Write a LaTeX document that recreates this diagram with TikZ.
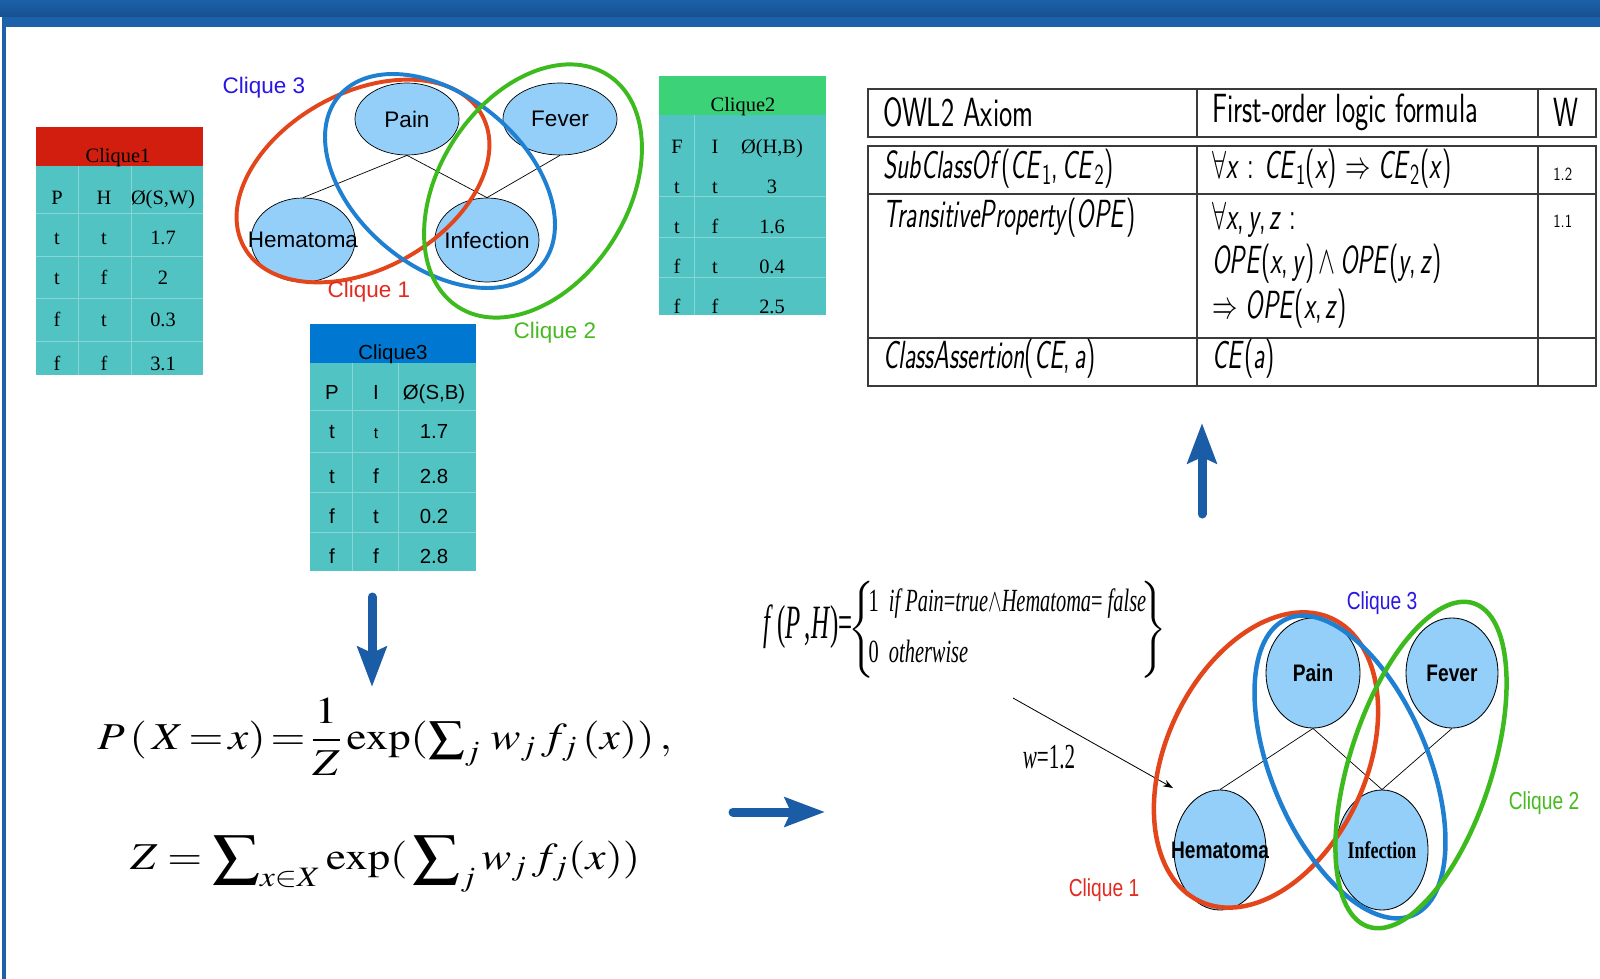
\documentclass[tikz,border=0pt]{standalone}
\usepackage{mathptmx}
\usepackage{fontspec}
\usepackage{graphicx}
\usetikzlibrary{shapes.geometric,arrows.meta}
\newfontfamily\arialf{Liberation Sans}
\newfontfamily\timesf{Liberation Serif}
\definecolor{tealcell}{HTML}{52C3C3}
\definecolor{tealline}{HTML}{86D6D6}
\definecolor{headred}{HTML}{D21E0F}
\definecolor{headgreen}{HTML}{3CD278}
\definecolor{headblue}{HTML}{0078D2}
\definecolor{nodeblue}{HTML}{93CFF8}
\definecolor{cqred}{HTML}{E4461C}
\definecolor{cqblue}{HTML}{1F80D2}
\definecolor{cqgreen}{HTML}{3DBB1E}
\definecolor{txtred}{HTML}{E42A20}
\definecolor{txtblue}{HTML}{2A16E4}
\definecolor{txtgreen}{HTML}{46BA1E}
\definecolor{arrowblue}{HTML}{1B5CA6}
\definecolor{bandtop}{HTML}{1D61AA}
\definecolor{banddark}{HTML}{16508E}
\definecolor{rulegray}{HTML}{3A3A3A}
\newcommand{\tall}[2][1.55]{\scalebox{1}[#1]{#2}}
\newcommand{\slim}[2]{\scalebox{#1}[1]{#2}}
\newcommand{\bigsum}[1][1.5]{\mathop{\vcenter{\hbox{\scalebox{#1}{$\textstyle\sum$}}}}\nolimits}

\begin{document}
\begin{tikzpicture}[x=0.025cm,y=-0.025cm]
	\tikzstyle{every node}=[inner sep=0pt]
	\tikzstyle{up node}=[ellipse,draw=black,line width=0.5pt,fill=nodeblue,font=\arialf\fontsize{16}{18}\selectfont]
	\tikzstyle{lo node}=[ellipse,draw=black,line width=0.6pt,fill=nodeblue,font=\arialf\bfseries\fontsize{17}{19}\selectfont]
	\tikzstyle{edge}=[draw=black,line width=0.5pt]
	\tikzstyle{clique ring}=[ellipse,draw,fill=none,line width=2.8pt]
	\tikzstyle{clique lab}=[anchor=base,font=\arialf\fontsize{16}{18}\selectfont]
	\tikzstyle{serif cell}=[font=\timesf\fontsize{14.5}{16}\selectfont,text height=10pt,text depth=3pt]
	\tikzstyle{sans cell}=[font=\arialf\fontsize{14.5}{16}\selectfont,text height=10pt,text depth=3pt]
	\tikzstyle{cell rule}=[draw=tealline,line width=0.6pt]
	\tikzstyle{owl}=[anchor=west,font=\sffamily\fontsize{18}{20}\selectfont]
	\tikzstyle{owl head}=[anchor=west,font=\sffamily\fontsize{20}{22}\selectfont]
	\tikzstyle{owl weight}=[anchor=west,font=\sffamily\fontsize{10.5}{12}\selectfont]
	\tikzstyle{owl rule}=[draw=rulegray,line width=1.4pt]
	\tikzstyle{formula}=[font=\fontsize{27}{30}\selectfont]
	\tikzstyle{feature}=[font=\timesf\fontsize{23}{25}\selectfont]
	\tikzstyle{bigarrow}=[draw=arrowblue,line width=6.4pt,line cap=round,-{Stealth[length=1cm,width=0.72cm,inset=0.15cm]}]

	\useasboundingbox (0,0) rectangle (1600,979);
	\fill[white] (0,0) rectangle (1600,979);
	\shade[top color=bandtop,bottom color=banddark] (0,0) rectangle (1600,17);
	\fill[bandtop] (2,17) rectangle (1600,27);
	\fill[bandtop] (2,17) rectangle (6,979);

	\fill[headred] (36,127) rectangle (203,166);
	\fill[tealcell] (36,166) rectangle (203,375);
	\foreach \y in {213,256,298,341} \draw[cell rule] (36,\y) -- (203,\y);
	\foreach \x in {78,131} \draw[cell rule] (\x,166) -- (\x,375);
	\node[serif cell] (c1head) at (118,158) {Clique1};
	\foreach \y/\a/\b/\c in {200/P/H/{Ø(S,W)},240/t/t/1.7,280/t/f/2,322/f/t/0.3,366/f/f/3.1}{
		\node[serif cell] (c1a\y) at (57,\y) {\a};
		\node[serif cell] (c1b\y) at (104,\y) {\b};
		\node[serif cell] (c1c\y) at (163,\y) {\c};
	}

	\fill[headgreen] (659,76) rectangle (826,115);
	\fill[tealcell] (659,115) rectangle (826,315);
	\foreach \y in {196,237,277} \draw[cell rule] (659,\y) -- (826,\y);
	\draw[cell rule] (694,115) -- (694,315);
	\node[serif cell] (c2head) at (743,107) {Clique2};
	\foreach \y/\a/\b/\c in {149/F/I/{Ø(H,B)},189/t/t/3,229/t/f/1.6,269/f/t/0.4,309/f/f/2.5}{
		\node[serif cell] (c2a\y) at (677,\y) {\a};
		\node[serif cell] (c2b\y) at (715,\y) {\b};
		\node[serif cell] (c2c\y) at (772,\y) {\c};
	}

	\fill[headblue] (310,324) rectangle (476,363);
	\fill[tealcell] (310,363) rectangle (476,571);
	\foreach \y in {410,452,492,532} \draw[cell rule] (310,\y) -- (476,\y);
	\foreach \x in {352,398} \draw[cell rule] (\x,363) -- (\x,571);
	\node[sans cell] (c3head) at (393,355) {Clique3};
	\foreach \y/\a/\b/\c in {395/P/I/{Ø(S,B)},434/t/{\fontsize{11}{13}\selectfont t}/1.7,479/t/f/2.8,519/f/t/0.2,559/f/f/2.8}{
		\node[sans cell] (c3a\y) at (332,\y) {\a};
		\node[sans cell] (c3b\y) at (376,\y) {\b};
		\node[sans cell] (c3c\y) at (434,\y) {\c};
	}

	\node[up node,minimum width=2.6cm,minimum height=1.8cm] (upain) at (407,119) {\makebox[0pt]{Pain}};
	\node[up node,minimum width=2.85cm,minimum height=1.8cm] (ufever) at (560,119) {\makebox[0pt]{Fever}};
	\node[up node,minimum width=2.6cm,minimum height=2.1cm] (uhema) at (303,240) {\makebox[0pt]{Hematoma}};
	\node[up node,minimum width=2.6cm,minimum height=2.1cm] (uinf) at (487,240) {\makebox[0pt]{Infection}};
	\draw[edge] (upain.south) -- (uhema.north);
	\draw[edge] (upain.south) -- (uinf.north);
	\draw[edge] (ufever.south) -- (uinf.north);
	\node[clique ring,draw=cqred,minimum width=6.8cm,minimum height=4.4cm,rotate=29] (ucq1) at (363,181) {};
	\node[clique ring,draw=cqblue,minimum width=6.6cm,minimum height=4.25cm,rotate=-40] (ucq3) at (440,181) {};
	\node[clique ring,draw=cqgreen,minimum width=6.9cm,minimum height=4.7cm,rotate=57] (ucq2) at (533,191) {};
	\node[clique lab,text=txtblue] (ulab3) at (264,94) {Clique 3};
	\node[clique lab,text=txtred] (ulab1) at (369,297) {Clique 1};
	\node[clique lab,text=txtgreen] (ulab2) at (555,338) {Clique 2};

	\draw[owl rule] (868,89) rectangle (1596,137);
	\draw[owl rule] (868,146) rectangle (1596,386);
	\draw[owl rule] (1197,89) -- (1197,137) (1538,89) -- (1538,137);
	\draw[owl rule] (1197,146) -- (1197,386) (1538,146) -- (1538,386);
	\draw[owl rule] (868,194) -- (1596,194) (868,338) -- (1596,338);
	\node[owl head] (oh1) at (883,112) {\tall[1.45]{OWL2 Axiom}};
	\node[owl head] (oh2) at (1212,112) {\tall[1.45]{First-order logic formula}};
	\node[owl head] (oh3) at (1553,112) {\tall[1.45]{W}};
	\node[owl] (o11) at (883,169) {\tall{\textit{SubClassOf}(\textit{CE}\textsubscript{1},\,\textit{CE}\textsubscript{2})}};
	\node[owl] (o12) at (1212,169) {\tall{$\forall$\textit{x} : \textit{CE}\textsubscript{1}(\textit{x}) $\Rightarrow$ \textit{CE}\textsubscript{2}(\textit{x})}};
	\node[owl weight] (o13) at (1553,174) {\tall[1.25]{1.2}};
	\node[owl] (o21) at (883,218) {\tall{\textit{TransitiveProperty}(\textit{OPE})}};
	\node[owl] (o22) at (1212,220) {\tall{$\forall$\textit{x},\,\textit{y},\,\textit{z} :}};
	\node[owl] (o22b) at (1212,264) {\tall{\textit{OPE}(\textit{x},\,\textit{y})\,$\wedge$\,\textit{OPE}(\textit{y},\,\textit{z})}};
	\node[owl] (o22c) at (1212,309) {\tall{$\Rightarrow$ \textit{OPE}(\textit{x},\,\textit{z})}};
	\node[owl weight] (o23) at (1553,221) {\tall[1.25]{1.1}};
	\node[owl] (o31) at (883,359) {\tall{\textit{ClassAssertion}(\textit{CE},\,\textit{a})}};
	\node[owl] (o32) at (1212,359) {\tall{\textit{CE}(\textit{a})}};

	\node[formula,anchor=west] (pxx) at (97,737) {\slim{1.18}{$\displaystyle P\,(\,X\!=\!x)\!=\!\frac{1}{Z}\exp(\bigsum[1.15]_j\, w_j\, f_j\,(x))\,,$}};
	\node[formula,anchor=west] (zsum) at (130,864) {\slim{1.18}{$\displaystyle Z=\bigsum_{x\in X}\exp(\,\bigsum_j w_j\, f_j(x))$}};

	\node[feature,anchor=west] (fph) at (763,630) {\slim{0.52}{\fontsize{34}{36}\selectfont\textit{f}\,(\textit{P}\,,\textit{H})=}\hspace{-3pt}$\left\{\hspace{-4pt}\slim{0.63}{\begin{tabular}{@{}l@{}}1\ \ \textit{if Pain}=\textit{true}$\wedge$\textit{Hematoma}= \textit{false}\\[11pt]0\ \ \textit{otherwise}\end{tabular}}\hspace{-4pt}\right\}$};
	\node[feature] (wval) at (1049,757) {\slim{0.6}{\fontsize{25}{27}\selectfont\textit{w}=1.2}};
	\coordinate (wfrom) at (1013,698);
	\coordinate (wto) at (1173,788);
	\draw[line width=0.6pt,-{Stealth[length=7pt,width=5pt]}] (wfrom) -- (wto);

	\node[lo node,minimum width=2.35cm,minimum height=2.75cm] (lpain) at (1313,673) {\makebox[0pt]{\slim{0.8}{Pain}}};
	\node[lo node,minimum width=2.3cm,minimum height=2.75cm] (lfever) at (1452,673) {\makebox[0pt]{\slim{0.8}{Fever}}};
	\node[lo node,minimum width=2.3cm,minimum height=3cm] (lhema) at (1220,850) {\makebox[0pt]{\slim{0.8}{Hematoma}}};
	\node[lo node,minimum width=2.3cm,minimum height=3cm] (linf) at (1382,850) {\makebox[0pt]{\slim{0.75}{\timesf Infection}}};
	\draw[edge] (lpain.south) -- (lhema.north);
	\draw[edge] (lpain.south) -- (linf.north);
	\draw[edge] (lfever.south) -- (linf.north);
	\node[clique ring,draw=cqred,line width=3.2pt,minimum width=7.8cm,minimum height=5cm,rotate=65] (lcq1) at (1266,760) {};
	\node[clique ring,draw=cqblue,line width=3.2pt,minimum width=8.05cm,minimum height=3.9cm,rotate=-67] (lcq3) at (1350,767) {};
	\node[clique ring,draw=cqgreen,line width=3.2pt,minimum width=8.5cm,minimum height=3.55cm,rotate=72] (lcq2) at (1421,765) {};
	\node[clique lab,text=txtblue] (llab3) at (1382,609) {\slim{0.78}{\fontsize{17.5}{19}\selectfont Clique 3}};
	\node[clique lab,text=txtgreen] (llab2) at (1544,809) {\slim{0.78}{\fontsize{17.5}{19}\selectfont Clique 2}};
	\node[clique lab,text=txtred] (llab1) at (1104,896) {\slim{0.78}{\fontsize{17.5}{19}\selectfont Clique 1}};

	\coordinate (dtop) at (372,597);
	\coordinate (dbot) at (372,687);
	\coordinate (rleft) at (733,812);
	\coordinate (rright) at (825,812);
	\coordinate (ubot) at (1202,514);
	\coordinate (utop) at (1202,423);
	\draw[bigarrow] (dtop) -- (dbot);
	\draw[bigarrow] (rleft) -- (rright);
	\draw[bigarrow] (ubot) -- (utop);
\end{tikzpicture}
\end{document}
